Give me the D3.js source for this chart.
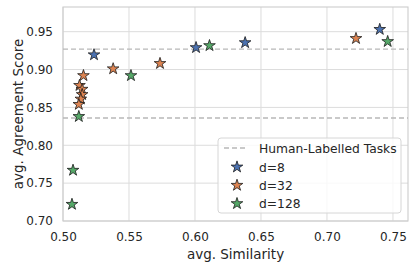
<!DOCTYPE html>
<meta charset="utf-8">
<script src="https://d3js.org/d3.v7.min.js"></script>
<style>
  body { margin: 0; background: #fff; }
  text { font-family: "DejaVu Sans", sans-serif; fill: #262626; }
</style>
<div id="my_dataviz"></div>
<script>

// data: [avg. similarity, avg. agreement score]
var d8   = [[0.5235, 0.9195], [0.6008, 0.929], [0.638, 0.9355], [0.740, 0.953]];
var d32  = [[0.5155, 0.892], [0.5125, 0.879], [0.5145, 0.874], [0.5145, 0.867],
            [0.5135, 0.861], [0.512, 0.854], [0.538, 0.901], [0.5735, 0.908], [0.722, 0.941]];
var d128 = [[0.512, 0.838], [0.5076, 0.767], [0.5068, 0.722], [0.5515, 0.892],
            [0.611, 0.9316], [0.746, 0.937]];
var humanLines = [0.927, 0.836];
var xTicks = [0.50, 0.55, 0.60, 0.65, 0.70, 0.75];
var yTicks = [0.70, 0.75, 0.80, 0.85, 0.90, 0.95];

var seriesNames  = ["d=8", "d=32", "d=128"];
var seriesData   = [d8, d32, d128];
var seriesColors = ["#4c72b0", "#dd8452", "#55a868"];

var width = 416, height = 269;
var margin = {top: 7, right: 8, bottom: 48, left: 63};
var w = width - margin.left - margin.right,
    h = height - margin.top - margin.bottom;

var svg = d3.select("#my_dataviz")
  .append("svg")
  .attr("width", width)
  .attr("height", height);

var g = svg.append("g")
  .attr("transform", "translate(" + margin.left + "," + margin.top + ")");

var x = d3.scaleLinear().domain([0.5, 0.7614]).range([0, w]);
var y = d3.scaleLinear().domain([0.7, 0.9826]).range([h, 0]);

// grid
g.selectAll(".vgrid").data(xTicks).enter().append("line")
  .attr("x1", d => x(d)).attr("x2", d => x(d))
  .attr("y1", 0).attr("y2", h)
  .attr("stroke", "#dcdcdc").attr("stroke-width", 1);
g.selectAll(".hgrid").data(yTicks).enter().append("line")
  .attr("y1", d => y(d)).attr("y2", d => y(d))
  .attr("x1", 0).attr("x2", w)
  .attr("stroke", "#dcdcdc").attr("stroke-width", 1);

// axes (labels only, no tick marks)
var xAxis = g.append("g")
  .attr("transform", "translate(0," + h + ")")
  .call(d3.axisBottom(x).tickValues(xTicks).tickFormat(d3.format(".2f")).tickSize(0).tickPadding(11));
var yAxis = g.append("g")
  .call(d3.axisLeft(y).tickValues(yTicks).tickFormat(d3.format(".2f")).tickSize(0).tickPadding(10));
[xAxis, yAxis].forEach(function(a) {
  a.select(".domain").remove();
  a.selectAll("text").style("font-size", "12px").style("fill", "#262626")
    .style("font-family", "DejaVu Sans");
});

// frame
g.append("rect")
  .attr("width", w).attr("height", h)
  .attr("fill", "none").attr("stroke", "#cccccc").attr("stroke-width", 1.1);

// human-labelled reference lines
g.selectAll(".hline").data(humanLines).enter().append("line")
  .attr("x1", 0).attr("x2", w)
  .attr("y1", d => y(d)).attr("y2", d => y(d))
  .attr("stroke", "#b8b8b8").attr("stroke-width", 1.3)
  .attr("stroke-dasharray", "5,3");

// stars
var star = d3.symbol().type(d3.symbolStar).size(42);
seriesData.forEach(function(data, i) {
  g.selectAll(".s" + i).data(data).enter().append("path")
    .attr("d", star)
    .attr("transform", d => "translate(" + x(d[0]) + "," + y(d[1]) + ")")
    .attr("fill", seriesColors[i])
    .attr("stroke", "#1a1a1a")
    .attr("stroke-width", 0.8);
});

// axis titles
svg.append("text")
  .attr("x", margin.left + w / 2).attr("y", 259)
  .attr("text-anchor", "middle")
  .style("font-size", "13.5px")
  .text("avg. Similarity");
svg.append("text")
  .attr("transform", "translate(23," + (margin.top + h / 2) + ") rotate(-90)")
  .attr("text-anchor", "middle")
  .style("font-size", "13.5px")
  .text("avg. Agreement Score");

// legend
var lg = svg.append("g").attr("transform", "translate(218,138)");
lg.append("rect")
  .attr("width", 183).attr("height", 75).attr("rx", 3)
  .attr("fill", "#fff").attr("fill-opacity", 0.8)
  .attr("stroke", "#d6d6d6").attr("stroke-width", 1);
lg.append("line")
  .attr("x1", 6).attr("x2", 30).attr("y1", 10).attr("y2", 10)
  .attr("stroke", "#b8b8b8").attr("stroke-width", 1.3)
  .attr("stroke-dasharray", "5,3");
lg.append("text").attr("x", 41).attr("y", 14.5)
  .style("font-size", "12.3px").text("Human-Labelled Tasks");
seriesNames.forEach(function(name, i) {
  var yy = 29 + i * 18.3;
  lg.append("path")
    .attr("d", star)
    .attr("transform", "translate(19," + yy + ")")
    .attr("fill", seriesColors[i])
    .attr("stroke", "#1a1a1a").attr("stroke-width", 0.8);
  lg.append("text").attr("x", 41).attr("y", yy + 4.5)
    .style("font-size", "12.3px").text(name);
});

</script>
